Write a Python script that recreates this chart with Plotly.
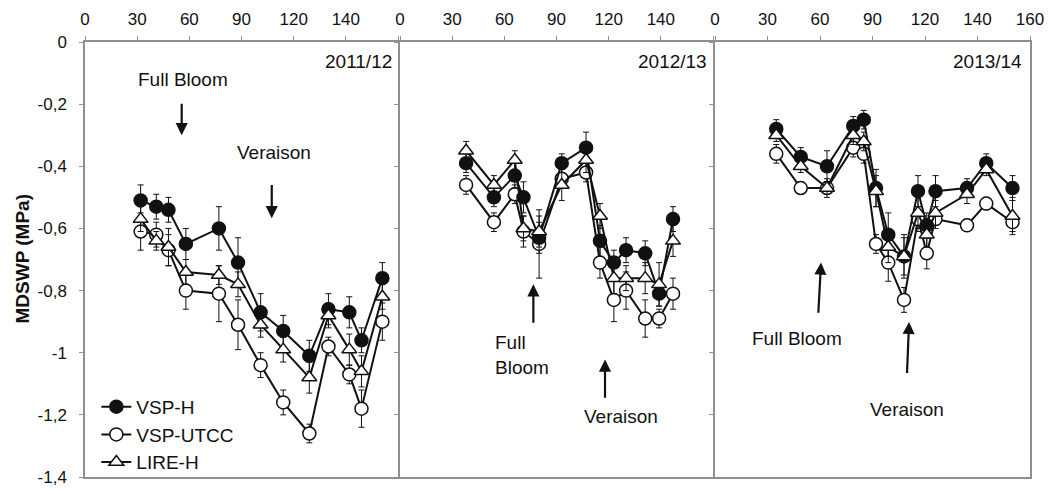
import plotly.graph_objects as go

# ---- Seasonal MDSWP series (days after budburst, MPa, standard error) ----
days_1112 = [32, 41, 48, 58, 77, 88, 101, 114, 129, 140, 152, 159, 171]
vsp_h_1112 = [-0.51, -0.53, -0.54, -0.65, -0.60, -0.71, -0.87, -0.93, -1.01, -0.86, -0.87, -0.96, -0.76]
vsp_h_1112_se = [0.05, 0.04, 0.04, 0.05, 0.07, 0.08, 0.06, 0.05, 0.05, 0.05, 0.05, 0.04, 0.05]
vsp_utcc_1112 = [-0.61, -0.62, -0.67, -0.80, -0.81, -0.91, -1.04, -1.16, -1.26, -0.98, -1.07, -1.18, -0.90]
vsp_utcc_1112_se = [0.06, 0.04, 0.05, 0.06, 0.09, 0.08, 0.04, 0.04, 0.03, 0.03, 0.03, 0.06, 0.06]
lire_h_1112 = [-0.57, -0.64, -0.66, -0.74, -0.75, -0.78, -0.91, -0.99, -1.08, -0.88, -0.99, -1.06, -0.82]
lire_h_1112_se = [0.04, 0.03, 0.06, 0.04, 0.03, 0.04, 0.04, 0.04, 0.05, 0.04, 0.05, 0.05, 0.04]

days_1213 = [38, 54, 66, 71, 80, 93, 107, 115, 123, 130, 141, 149, 157]
vsp_h_1213 = [-0.39, -0.50, -0.43, -0.50, -0.63, -0.39, -0.34, -0.64, -0.71, -0.67, -0.68, -0.81, -0.57]
vsp_h_1213_se = [0.03, 0.03, 0.04, 0.05, 0.05, 0.03, 0.05, 0.05, 0.04, 0.04, 0.04, 0.04, 0.04]
vsp_utcc_1213 = [-0.46, -0.58, -0.49, -0.61, -0.65, -0.44, -0.42, -0.71, -0.83, -0.80, -0.89, -0.89, -0.81]
vsp_utcc_1213_se = [0.03, 0.03, 0.03, 0.05, 0.11, 0.03, 0.03, 0.05, 0.07, 0.06, 0.06, 0.03, 0.05]
lire_h_1213 = [-0.35, -0.46, -0.38, -0.60, -0.61, -0.46, -0.38, -0.56, -0.76, -0.76, -0.76, -0.78, -0.64]
lire_h_1213_se = [0.03, 0.03, 0.03, 0.04, 0.05, 0.05, 0.04, 0.04, 0.05, 0.04, 0.05, 0.07, 0.05]

days_1314 = [35, 49, 64, 79, 85, 92, 99, 108, 116, 121, 126, 144, 155, 170]
vsp_h_1314 = [-0.28, -0.37, -0.40, -0.27, -0.25, -0.47, -0.62, -0.69, -0.48, -0.59, -0.48, -0.47, -0.39, -0.47]
vsp_h_1314_se = [0.03, 0.03, 0.05, 0.03, 0.03, 0.06, 0.07, 0.06, 0.05, 0.04, 0.05, 0.03, 0.03, 0.04]
vsp_utcc_1314 = [-0.36, -0.47, -0.47, -0.34, -0.36, -0.65, -0.71, -0.83, -0.57, -0.68, -0.57, -0.59, -0.52, -0.58]
vsp_utcc_1314_se = [0.03, 0.02, 0.02, 0.03, 0.03, 0.03, 0.06, 0.04, 0.04, 0.05, 0.03, 0.02, 0.02, 0.03]
lire_h_1314 = [-0.30, -0.40, -0.47, -0.30, -0.32, -0.48, -0.66, -0.69, -0.55, -0.62, -0.55, -0.49, -0.41, -0.56]
lire_h_1314_se = [0.02, 0.02, 0.03, 0.03, 0.03, 0.05, 0.05, 0.07, 0.05, 0.04, 0.04, 0.03, 0.02, 0.06]

seasons = ["2011/12", "2012/13", "2013/14"]
x_tickvals = [0, 30, 60, 90, 120, 150, 180]
x_ticktext_inner = ["0", "30", "60", "90", "120", "140", ""]
x_ticktext_last = ["0", "30", "60", "90", "120", "140", "160"]
y_tickvals = [0, -0.2, -0.4, -0.6, -0.8, -1.0, -1.2, -1.4]
y_ticktext = ["0", "-0,2", "-0,4", "-0,6", "-0,8", "-1", "-1,2", "-1,4"]

FONT = "Arial, Liberation Sans, Helvetica, sans-serif"
AXIS_GREY = "#8f8f8f"
INK = "#111111"

panels = [
    (days_1112, vsp_h_1112, vsp_h_1112_se, vsp_utcc_1112, vsp_utcc_1112_se, lire_h_1112, lire_h_1112_se),
    (days_1213, vsp_h_1213, vsp_h_1213_se, vsp_utcc_1213, vsp_utcc_1213_se, lire_h_1213, lire_h_1213_se),
    (days_1314, vsp_h_1314, vsp_h_1314_se, vsp_utcc_1314, vsp_utcc_1314_se, lire_h_1314, lire_h_1314_se),
]

fig = go.Figure()


def err(se):
    return dict(type="data", array=se, visible=True, color=INK, thickness=1, width=3)


for i, (d, h, hse, u, use, l, lse) in enumerate(panels):
    xa = "x" if i == 0 else f"x{i + 1}"
    ya = "y" if i == 0 else f"y{i + 1}"
    show = i == 0
    line = dict(color=INK, width=2)
    fig.add_trace(go.Scatter(
        x=d, y=u, error_y=err(use), mode="lines+markers", name="VSP-UTCC",
        line=line, marker=dict(symbol="circle", size=13, color="white", line=dict(color=INK, width=1.5)),
        xaxis=xa, yaxis=ya, showlegend=show, legendrank=2))
    fig.add_trace(go.Scatter(
        x=d, y=h, error_y=err(hse), mode="lines+markers", name="VSP-H",
        line=line, marker=dict(symbol="circle", size=13, color=INK, line=dict(color=INK, width=1.5)),
        xaxis=xa, yaxis=ya, showlegend=show, legendrank=1))
    fig.add_trace(go.Scatter(
        x=d, y=l, error_y=err(lse), mode="lines+markers", name="LIRE-H",
        line=line, marker=dict(symbol="triangle-up", size=13, color="white", line=dict(color=INK, width=1.5)),
        xaxis=xa, yaxis=ya, showlegend=show, legendrank=3))

# plot area: x from 85 to 1030 px (945 px wide), three boxes with 2 px gaps
W = 945.0
domains = [[0, 313 / W], [315 / W, 628 / W], [630 / W, 1.0]]

layout_axes = {}
for i, dom in enumerate(domains):
    kx = "xaxis" if i == 0 else f"xaxis{i + 1}"
    ky = "yaxis" if i == 0 else f"yaxis{i + 1}"
    layout_axes[kx] = dict(
        domain=dom, range=[0, 180], side="top", automargin=False,
        tickvals=x_tickvals, ticktext=x_ticktext_last if i == 2 else x_ticktext_inner,
        showline=True, linecolor=AXIS_GREY, linewidth=1.5, mirror=True,
        ticks="outside", ticklen=4, tickcolor=AXIS_GREY, tickwidth=1,
        ticklabelstandoff=4,
        showgrid=False, zeroline=False,
        tickfont=dict(family=FONT, size=17, color=INK),
        anchor="y" if i == 0 else f"y{i + 1}",
    )
    layout_axes[ky] = dict(
        domain=[0, 1], range=[-1.4, 0], automargin=False,
        tickvals=y_tickvals, ticktext=y_ticktext, showticklabels=(i == 0),
        showline=True, linecolor=AXIS_GREY, linewidth=1.5, mirror=True,
        ticks="outside", ticklen=4, tickcolor=AXIS_GREY, tickwidth=1,
        ticklabelstandoff=9,
        showgrid=False, zeroline=False,
        tickfont=dict(family=FONT, size=17, color=INK),
        anchor="x" if i == 0 else f"x{i + 1}",
    )

annotations = [dict(
    x=(22 - 85) / W, y=0.5, xref="paper", yref="paper", text="<b>MDSWP (MPa)</b>",
    textangle=-90, showarrow=False, xanchor="center", yanchor="middle",
    font=dict(family=FONT, size=19, color=INK))]

# season labels in the top-right corner of each box
season_x = [177.5, 177.5, 176.5]
for i, s in enumerate(seasons):
    sfx = "" if i == 0 else str(i + 1)
    annotations.append(dict(
        x=season_x[i], y=-0.064, xref="x" + sfx, yref="y" + sfx, text=s, showarrow=False,
        xanchor="right", yanchor="middle", font=dict(family=FONT, size=19, color=INK)))

# phenological stage labels and arrows: (panel, text, x, y, xanchor, align)
stage_text = [
    (0, "Full Bloom", 56.1, -0.121, "center", "center"),
    (0, "Veraison", 108.4, -0.357, "center", "center"),
    (1, "Full<br>Bloom", 53.6, -1.008, "left", "left"),
    (1, "Veraison", 127.1, -1.204, "center", "center"),
    (2, "Full Bloom", 46.6, -0.955, "center", "center"),
    (2, "Veraison", 109.7, -1.182, "center", "center"),
]
for p, t, x, y, xa, al in stage_text:
    sfx = "" if p == 0 else str(p + 1)
    annotations.append(dict(
        x=x, y=y, xref="x" + sfx, yref="y" + sfx, text=t, showarrow=False,
        xanchor=xa, yanchor="middle", align=al, font=dict(family=FONT, size=19, color=INK)))

# arrows: (panel, tip x, tip y, tail x, tail y)
stage_arrows = [
    (0, 55.6, -0.300, 55.6, -0.194),
    (0, 107.4, -0.567, 107.4, -0.455),
    (1, 76.7, -0.780, 76.7, -0.908),
    (1, 117.9, -1.022, 117.9, -1.150),
    (2, 60.6, -0.710, 59.0, -0.876),
    (2, 110.9, -0.901, 109.7, -1.070),
]
for p, x, y, ax, ay in stage_arrows:
    sfx = "" if p == 0 else str(p + 1)
    annotations.append(dict(
        x=x, y=y, ax=ax, ay=ay, xref="x" + sfx, yref="y" + sfx, axref="x" + sfx, ayref="y" + sfx,
        text="", showarrow=True, arrowhead=2, arrowsize=1.1, arrowwidth=2.2, arrowcolor=INK))

fig.update_layout(
    width=1049, height=494,
    margin=dict(l=85, r=19, t=42, b=12),
    paper_bgcolor="white", plot_bgcolor="white",
    font=dict(family=FONT, color=INK),
    showlegend=True,
    legend=dict(
        x=0.012, y=0.205, xanchor="left", yanchor="top",
        bgcolor="rgba(0,0,0,0)", borderwidth=0,
        font=dict(family=FONT, size=19, color=INK),
        traceorder="normal", itemwidth=30, tracegroupgap=0,
    ),
    annotations=annotations,
    **layout_axes,
)

fig.write_html("out.html")
